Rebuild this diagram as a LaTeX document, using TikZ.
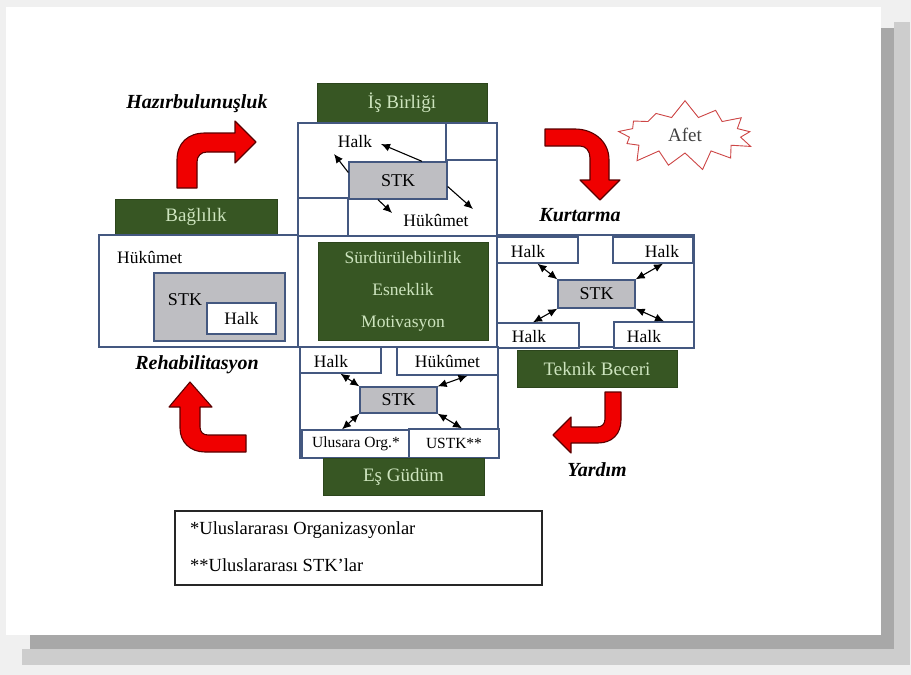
\documentclass[tikz,border=0pt]{standalone}
\usepackage{fontspec}
\setmainfont{Liberation Serif}
\usetikzlibrary{arrows.meta,shapes.symbols}

\definecolor{bgrey}{RGB}{240,240,240}
\definecolor{shdark}{RGB}{168,168,168}
\definecolor{shlight}{RGB}{205,205,205}
\definecolor{frameblue}{RGB}{68,88,128}
\definecolor{dkgreen}{RGB}{55,86,35}
\definecolor{ltgreen}{RGB}{205,228,190}
\definecolor{stkgrey}{RGB}{190,190,194}
\definecolor{arrred}{RGB}{240,0,0}
\definecolor{arrrim}{RGB}{90,0,0}
\definecolor{afetred}{RGB}{205,70,70}

\begin{document}
\begin{tikzpicture}[x=1pt,y=-1pt,
    frame/.style={draw=frameblue,line width=1.3pt},
    greenbox/.style={fill=dkgreen,draw=dkgreen!80!black,text=ltgreen,inner sep=0pt,
      font=\fontsize{19}{22}\selectfont},
    stkbox/.style={fill=stkgrey,draw=frameblue,line width=1.3pt,inner sep=0pt,
      font=\fontsize{18}{21}\selectfont},
    whitebox/.style={fill=white,draw=frameblue,line width=1.3pt,inner sep=0pt,
      font=\fontsize{17.5}{20}\selectfont},
    txt/.style={inner sep=0pt,font=\fontsize{17.5}{20}\selectfont},
    phase/.style={inner sep=0pt,font=\fontsize{20}{23}\selectfont\bfseries\itshape},
    bent/.style={fill=arrred,draw=arrrim,line width=1.1pt,line join=round},
    onehead/.style={-{Latex[length=9pt,width=8pt]},line width=1.1pt},
    twohead/.style={{Latex[length=9pt,width=8pt]}-{Latex[length=9pt,width=8pt]},line width=1.1pt}]

  \useasboundingbox (0,0) rectangle (911,675);
  \fill[bgrey] (0,0) rectangle (911,675);
  \fill[shlight] (894,22) rectangle (910,665);
  \fill[shlight] (22,649) rectangle (910,665);
  \fill[shdark] (881,28) rectangle (894,649);
  \fill[shdark] (30,635) rectangle (894,649);
  \fill[white] (6,7) rectangle (881,635);

  % is birligi
  \node[greenbox,minimum width=170,minimum height=40] (isb) at (402,103) {İş Birliği};
  \draw[frame] (298,123) rectangle (497,236);
  \draw[frame] (446,123) -- (446,160) -- (497,160);
  \draw[frame] (298,198) -- (348,198) -- (348,236);
  \node[stkbox,minimum width=98,minimum height=37] (stkT) at (398,180.5) {STK};
  \node[txt] (halkT) at (355,142) {Halk};
  \node[txt] (hukT) at (436,220) {Hükûmet};
  \coordinate (aHalk1) at (334,154);
  \coordinate (aHalk2) at (381,144);
  \coordinate (aHuk1) at (392,213);
  \coordinate (aHuk2) at (473,209);
  \draw[onehead] ([yshift=8pt]stkT.west) -- (aHalk1);
  \draw[onehead] ([xshift=24pt]stkT.north) -- (aHalk2);
  \draw[onehead] ([xshift=-20pt]stkT.south) -- (aHuk1);
  \draw[onehead] ([yshift=-6pt]stkT.east) -- (aHuk2);

  % baglilik
  \node[greenbox,minimum width=162,minimum height=36] (bag) at (196,217) {Bağlılık};
  \draw[frame] (99,235) rectangle (298,347);
  \node[txt,anchor=west] (hukL) at (117,257) {Hükûmet};
  \node[stkbox,minimum width=131,minimum height=68] (stkL) at (219.5,307) {};
  \node[inner sep=0pt,font=\fontsize{18}{21}\selectfont] (stkLt) at (185,300) {STK};
  \node[whitebox,minimum width=69,minimum height=31] (halkL) at (241.5,318.5) {Halk};

  % orta
  \draw[frame] (298,236) rectangle (497,347);
  \node[greenbox,minimum width=170,minimum height=98,align=center,
    font=\fontsize{17.5}{32}\selectfont] (mid) at (403,291)
    {Sürdürülebilirlik\\Esneklik\\Motivasyon};

  % teknik beceri
  \draw[frame] (497,235) rectangle (694,347);
  \node[whitebox,minimum width=81,minimum height=26] (rTL) at (537.5,250) {};
  \node[whitebox,minimum width=80,minimum height=26] (rTR) at (653,250) {};
  \node[whitebox,minimum width=82,minimum height=25] (rBL) at (538,335.5) {};
  \node[whitebox,minimum width=80,minimum height=26] (rBR) at (654,335) {};
  \node[txt] (rTLt) at (528,252) {Halk};
  \node[txt] (rTRt) at (662,252) {Halk};
  \node[txt] (rBLt) at (529,337) {Halk};
  \node[txt] (rBRt) at (644,337) {Halk};
  \node[stkbox,minimum width=77,minimum height=28] (stkR) at (596.5,294) {STK};
  \draw[twohead] (rTL.south) -- (stkR.north west);
  \draw[twohead] ([xshift=10pt]rTR.south) -- (stkR.north east);
  \draw[twohead] ([xshift=-5pt]rBL.north) -- (stkR.south west);
  \draw[twohead] (stkR.south east) -- ([xshift=10pt]rBR.north);
  \node[greenbox,minimum width=160,minimum height=37] (tek) at (597,368.5) {Teknik Beceri};

  % es gudum
  \draw[frame] (300,347) rectangle (498,458);
  \node[whitebox,minimum width=81,minimum height=26] (bH) at (340.5,360) {};
  \node[txt] (bHt) at (331,362) {Halk};
  \node[whitebox,minimum width=101,minimum height=28] (bHk) at (447.5,361) {Hükûmet};
  \node[stkbox,minimum width=77,minimum height=26] (stkB) at (398.5,400) {STK};
  \node[whitebox,minimum width=108,minimum height=28,font=\fontsize{15.5}{18}\selectfont] (bU) at (356,444) {Ulusara Org.*};
  \node[whitebox,minimum width=90,minimum height=29,font=\fontsize{15.5}{18}\selectfont] (bS) at (454,443.5) {USTK**};
  \draw[twohead] (bH.south) -- (stkB.north west);
  \draw[twohead] ([xshift=20pt]bHk.south) -- (stkB.north east);
  \draw[twohead] ([xshift=-14pt]bU.north) -- (stkB.south west);
  \draw[twohead] (stkB.south east) -- ([xshift=8pt]bS.north);
  \node[greenbox,minimum width=161,minimum height=37] (esg) at (403.5,476.5) {Eş Güdüm};

  % evreler
  \node[phase] (hazir) at (197,104) {Hazırbulunuşluk};
  \node[phase] (kurt) at (580,215) {Kurtarma};
  \node[phase] (rehab) at (197,365) {Rehabilitasyon};
  \node[phase] (yard) at (597,470) {Yardım};

  \draw[bent] (177,188) -- (177,160) .. controls (177,143) and (188,133) .. (205,133)
    -- (235,133) -- (235,121) -- (256,142) -- (235,163) -- (235,152) -- (207,152)
    .. controls (201,152) and (197,156) .. (197,162) -- (197,188) -- cycle;
  \draw[bent] (545,129) -- (575,129) .. controls (592,129) and (609,140) .. (609,160)
    -- (609,180) -- (620,180) -- (600,200) -- (580,180) -- (590,180) -- (590,158)
    .. controls (590,151) and (586,146) .. (580,146) -- (545,146) -- cycle;
  \draw[bent] (190,382) -- (212,407) -- (200,407) -- (200,427)
    .. controls (200,432) and (203,435) .. (208,435) -- (246,435) -- (246,452)
    -- (205,452) .. controls (190,452) and (180,442) .. (180,428) -- (180,407)
    -- (169,407) -- cycle;
  \draw[bent] (605,392) -- (621,392) -- (621,420) .. controls (621,434) and (612,443) .. (598,443)
    -- (571,443) -- (571,453) -- (553,435) -- (571,417) -- (571,427) -- (597,427)
    .. controls (602,427) and (605,424) .. (605,419) -- cycle;

  \node[draw=afetred,line width=0.9pt,shape=starburst,starburst points=13,
    starburst point height=18pt,random starburst=7,minimum width=148pt,minimum height=72pt,
    inner sep=0pt,text=black!75,font=\fontsize{19}{22}\selectfont] (afet) at (685,135) {Afet};

  % dipnot
  \node[draw=black!85,line width=2pt,minimum width=367,minimum height=74] (note) at (358.5,548) {};
  \node[txt,anchor=west,font=\fontsize{18.5}{22}\selectfont] (note1) at (190,530) {*Uluslararası Organizasyonlar};
  \node[txt,anchor=west,font=\fontsize{18.5}{22}\selectfont] (note2) at (190,565) {**Uluslararası STK’lar};
\end{tikzpicture}
\end{document}
